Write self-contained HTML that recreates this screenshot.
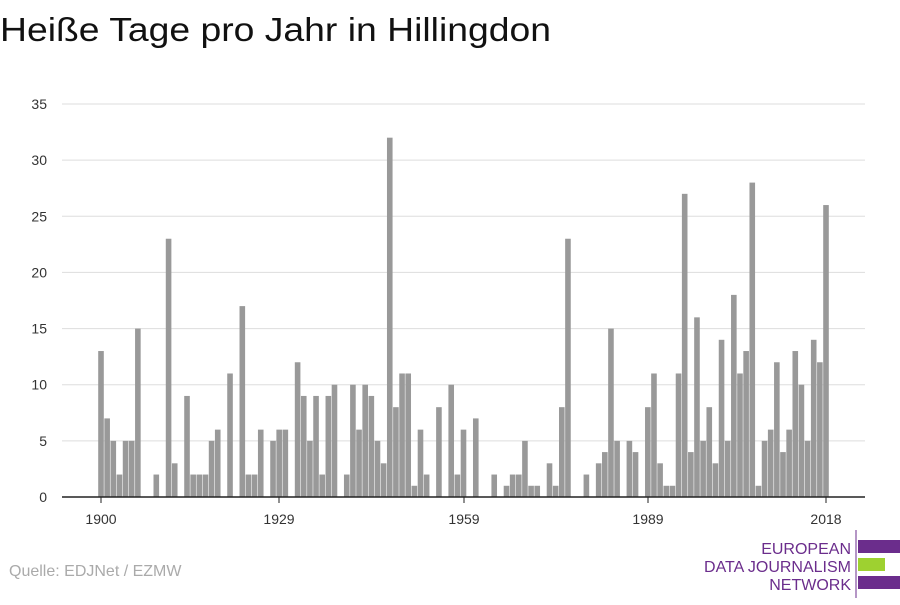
<!DOCTYPE html>
<html><head><meta charset="utf-8"><style>
body{margin:0;background:#fff;width:900px;height:600px;overflow:hidden;font-family:"Liberation Sans",sans-serif}
</style></head><body>
<svg width="900" height="600" xmlns="http://www.w3.org/2000/svg" font-family="Liberation Sans, sans-serif">
<text x="0" y="41" font-size="33" fill="#111" textLength="551" lengthAdjust="spacingAndGlyphs">Heiße Tage pro Jahr in Hillingdon</text>
<g id="grid" stroke="#ddd" stroke-width="1"></g>
<g id="ylab" font-size="14" fill="#333" text-anchor="end"></g>
<g id="bars" fill="#999"></g>
<line x1="62" y1="497" x2="865" y2="497" stroke="#222" stroke-width="1.5"/>
<g font-size="14" fill="#333" text-anchor="middle">
<line x1="101" y1="497" x2="101" y2="503" stroke="#222"/><text x="101" y="524">1900</text>
<line x1="279" y1="497" x2="279" y2="503" stroke="#222"/><text x="279" y="524">1929</text>
<line x1="464" y1="497" x2="464" y2="503" stroke="#222"/><text x="464" y="524">1959</text>
<line x1="648" y1="497" x2="648" y2="503" stroke="#222"/><text x="648" y="524">1989</text>
<line x1="826" y1="497" x2="826" y2="503" stroke="#222"/><text x="826" y="524">2018</text>
</g>
<text x="9" y="576" font-size="16" fill="#aaa">Quelle: EDJNet / EZMW</text>
<g font-size="16" fill="#6b2d8c" text-anchor="end">
<text x="851" y="554">EUROPEAN</text>
<text x="851" y="572">DATA JOURNALISM</text>
<text x="851" y="590">NETWORK</text>
</g>
<line x1="856" y1="530" x2="856" y2="598" stroke="#6b2d8c" stroke-width="1"/>
<rect x="858" y="540" width="42" height="13" fill="#6b2d8c"/>
<rect x="858" y="558" width="27" height="13" fill="#9ed130"/>
<rect x="858" y="576" width="42" height="13" fill="#6b2d8c"/>
</svg>
<script>
var v=[13,7,5,2,5,5,15,0,0,2,0,23,3,0,9,2,2,2,5,6,0,11,0,17,2,2,6,0,5,6,6,0,12,9,5,9,2,9,10,0,2,10,6,10,9,5,3,32,8,11,11,1,6,2,0,8,0,10,2,6,0,7,0,0,2,0,1,2,2,5,1,1,0,3,1,8,23,0,0,2,0,3,4,15,5,0,5,4,0,8,11,3,1,1,11,27,4,16,5,8,3,14,5,18,11,13,28,1,5,6,12,4,6,13,10,5,14,12,26];
var ns="http://www.w3.org/2000/svg",g=document.getElementById('grid'),yl=document.getElementById('ylab'),b=document.getElementById('bars');
var py=393/35;
for(var i=1;i<=7;i++){var y=497-i*5*py;var l=document.createElementNS(ns,'line');l.setAttribute('x1',62);l.setAttribute('x2',865);l.setAttribute('y1',y);l.setAttribute('y2',y);g.appendChild(l);}
for(var i=0;i<=7;i++){var y=497-i*5*py;var t=document.createElementNS(ns,'text');t.setAttribute('x',47);t.setAttribute('y',y+5);t.textContent=i*5;yl.appendChild(t);}
var px=725/118;
v.forEach(function(val,i){if(!val)return;var r=document.createElementNS(ns,'rect');var x=101+i*px;r.setAttribute('x',x-2.8);r.setAttribute('width',5.6);r.setAttribute('y',497-val*py);r.setAttribute('height',val*py);b.appendChild(r);});
</script>
</body></html>
